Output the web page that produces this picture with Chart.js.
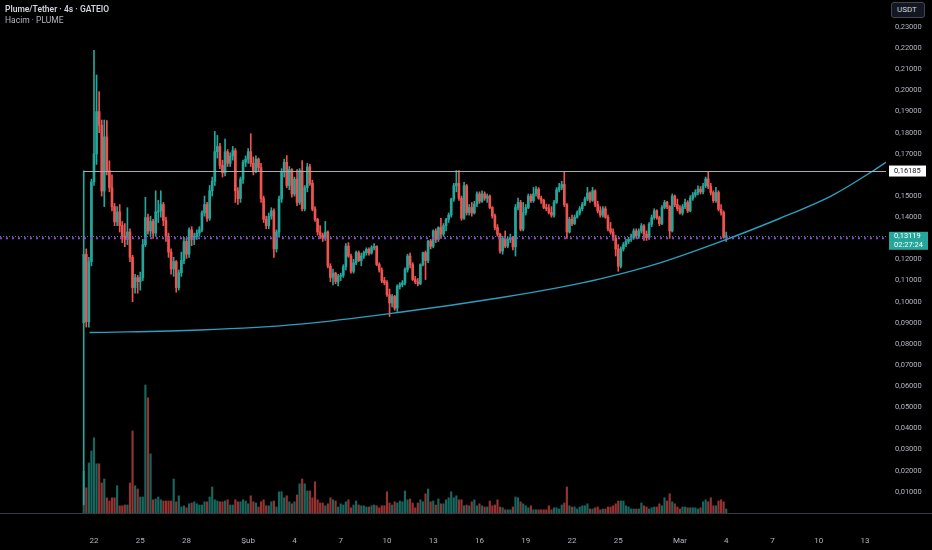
<!DOCTYPE html>
<html>
<head>
<meta charset="utf-8">
<script src="https://cdn.jsdelivr.net/npm/chart.js@4.4.1/dist/chart.umd.min.js"></script>
<style>
  html, body { margin: 0; padding: 0; background: #000; overflow: hidden; }
  #wrap { position: relative; width: 932px; height: 550px; }
  #title { position: absolute; left: 5px; top: 4px; font: 600 8.5px Roboto, "Noto Sans", sans-serif; color: #d1d4dc; white-space: nowrap; }
  #sub { position: absolute; left: 5px; top: 15px; font: 8.5px Roboto, "Noto Sans", sans-serif; color: #b2b5be; white-space: nowrap; }
  #unit { position: absolute; left: 891px; top: 2px; width: 34px; height: 16px; box-sizing: border-box; border: 1px solid #434651; border-radius: 3px; background: #131722; color: #d1d4dc; font: 8px Roboto, "Noto Sans", sans-serif; line-height: 14px; padding-left: 5px; }
</style>
</head>
<body>
<div id="wrap">
  <canvas id="chart" width="932" height="550"></canvas>
  <div id="title">Plume/Tether · 4s · GATEIO</div>
  <div id="sub">Hacim · PLUME</div>
  <div id="unit">USDT</div>
</div>
<script>
// 4h candles, first one opens Jan 21 08:00 (hours counted from Jan 22 00:00)
const firstCandleHour = -16;
const candleHours = 4;

const openPx = [
  0.0900,0.1224,0.0905,0.1190,0.1567,0.1700,0.1900,0.1835,0.1524,0.1780,
  0.1620,0.1540,0.1450,0.1378,0.1425,0.1360,0.1310,0.1295,0.1330,0.1210,
  0.1067,0.1114,0.1095,0.1114,0.1270,0.1398,0.1335,0.1380,0.1325,0.1425,
  0.1430,0.1460,0.1385,0.1310,0.1235,0.1155,0.1190,0.1067,0.1137,0.1195,
  0.1285,0.1225,0.1340,0.1295,0.1310,0.1325,0.1340,0.1420,0.1460,0.1395,
  0.1525,0.1570,0.1710,0.1735,0.1645,0.1610,0.1710,0.1655,0.1690,0.1715,
  0.1525,0.1488,0.1580,0.1660,0.1675,0.1710,0.1655,0.1620,0.1675,0.1635,
  0.1488,0.1390,0.1360,0.1405,0.1430,0.1250,0.1330,0.1486,0.1614,0.1660,
  0.1550,0.1625,0.1510,0.1580,0.1470,0.1620,0.1440,0.1540,0.1638,0.1560,
  0.1438,0.1390,0.1330,0.1315,0.1300,0.1330,0.1168,0.1115,0.1135,0.1095,
  0.1120,0.1125,0.1165,0.1263,0.1216,0.1144,0.1184,0.1232,0.1195,0.1216,
  0.1232,0.1248,0.1230,0.1256,0.1262,0.1176,0.1150,0.1100,0.1090,0.1033,
  0.0994,0.1025,0.0970,0.1073,0.1081,0.1089,0.1152,0.1216,0.1176,0.1105,
  0.1095,0.1085,0.1176,0.1232,0.1195,0.1287,0.1262,0.1335,0.1295,0.1351,
  0.1320,0.1360,0.1390,0.1410,0.1486,0.1549,0.1560,0.1490,0.1395,0.1549,
  0.1422,0.1446,0.1420,0.1462,0.1510,0.1475,0.1510,0.1490,0.1500,0.1446,
  0.1406,0.1351,0.1319,0.1240,0.1300,0.1263,0.1295,0.1303,0.1260,0.1446,
  0.1470,0.1343,0.1422,0.1446,0.1500,0.1478,0.1510,0.1533,0.1490,0.1480,
  0.1446,0.1440,0.1422,0.1410,0.1470,0.1530,0.1541,0.1555,0.1460,0.1330,
  0.1390,0.1370,0.1400,0.1420,0.1440,0.1460,0.1486,0.1515,0.1480,0.1525,
  0.1460,0.1430,0.1410,0.1440,0.1400,0.1345,0.1330,0.1300,0.1250,0.1168,
  0.1250,0.1270,0.1285,0.1295,0.1303,0.1335,0.1311,0.1335,0.1359,0.1320,
  0.1303,0.1367,0.1398,0.1430,0.1398,0.1370,0.1446,0.1470,0.1450,0.1335,
  0.1500,0.1460,0.1440,0.1420,0.1450,0.1470,0.1430,0.1490,0.1505,0.1517,
  0.1533,0.1520,0.1549,0.1581,0.1545,0.1517,0.1478,0.1517,0.1438,0.1422,
  0.1305
];
const highPx = [
  0.1620,0.1250,0.1210,0.1580,0.2190,0.2073,0.1995,0.1860,0.1860,0.1857,
  0.1667,0.1600,0.1465,0.1450,0.1460,0.1380,0.1370,0.1445,0.1345,0.1220,
  0.1130,0.1125,0.1140,0.1295,0.1494,0.1415,0.1405,0.1390,0.1525,0.1480,
  0.1525,0.1470,0.1400,0.1325,0.1250,0.1210,0.1195,0.1150,0.1235,0.1305,
  0.1300,0.1350,0.1355,0.1325,0.1340,0.1355,0.1430,0.1500,0.1470,0.1550,
  0.1590,0.1806,0.1787,0.1750,0.1670,0.1770,0.1720,0.1705,0.1735,0.1725,
  0.1540,0.1590,0.1670,0.1690,0.1725,0.1795,0.1685,0.1690,0.1680,0.1655,
  0.1500,0.1405,0.1420,0.1445,0.1440,0.1340,0.1500,0.1630,0.1675,0.1692,
  0.1640,0.1630,0.1590,0.1625,0.1630,0.1668,0.1550,0.1655,0.1650,0.1575,
  0.1450,0.1395,0.1360,0.1325,0.1380,0.1335,0.1180,0.1155,0.1140,0.1130,
  0.1135,0.1175,0.1275,0.1280,0.1225,0.1200,0.1240,0.1240,0.1230,0.1240,
  0.1255,0.1255,0.1265,0.1275,0.1265,0.1185,0.1160,0.1115,0.1100,0.1060,
  0.1035,0.1030,0.1080,0.1090,0.1100,0.1160,0.1225,0.1230,0.1185,0.1120,
  0.1110,0.1180,0.1235,0.1240,0.1290,0.1295,0.1340,0.1345,0.1355,0.1395,
  0.1370,0.1395,0.1420,0.1490,0.1560,0.1621,0.1621,0.1500,0.1565,0.1555,
  0.1460,0.1470,0.1475,0.1520,0.1520,0.1525,0.1520,0.1510,0.1505,0.1450,
  0.1415,0.1365,0.1325,0.1310,0.1335,0.1305,0.1320,0.1310,0.1460,0.1490,
  0.1480,0.1470,0.1460,0.1510,0.1510,0.1541,0.1545,0.1540,0.1500,0.1485,
  0.1462,0.1460,0.1450,0.1480,0.1540,0.1560,0.1570,0.1613,0.1465,0.1400,
  0.1410,0.1410,0.1430,0.1450,0.1470,0.1495,0.1541,0.1520,0.1541,0.1530,
  0.1475,0.1450,0.1450,0.1450,0.1410,0.1375,0.1345,0.1315,0.1271,0.1260,
  0.1280,0.1295,0.1305,0.1320,0.1345,0.1345,0.1345,0.1370,0.1365,0.1335,
  0.1375,0.1410,0.1440,0.1435,0.1405,0.1455,0.1480,0.1475,0.1455,0.1510,
  0.1505,0.1486,0.1455,0.1460,0.1486,0.1478,0.1502,0.1517,0.1530,0.1549,
  0.1545,0.1560,0.1590,0.1616,0.1560,0.1525,0.1541,0.1525,0.1460,0.1430,
  0.1330
];
const lowPx = [
  0.0040,0.0880,0.0880,0.1170,0.1550,0.1650,0.1800,0.1500,0.1450,0.1600,
  0.1520,0.1430,0.1360,0.1360,0.1330,0.1280,0.1260,0.1270,0.1190,0.1000,
  0.1040,0.1040,0.1055,0.1100,0.1260,0.1320,0.1310,0.1300,0.1310,0.1375,
  0.1400,0.1360,0.1285,0.1210,0.1130,0.1120,0.1045,0.1055,0.1120,0.1180,
  0.1205,0.1210,0.1265,0.1270,0.1295,0.1310,0.1330,0.1405,0.1380,0.1385,
  0.1500,0.1550,0.1680,0.1630,0.1590,0.1595,0.1640,0.1640,0.1670,0.1470,
  0.1460,0.1470,0.1560,0.1640,0.1655,0.1640,0.1600,0.1610,0.1620,0.1470,
  0.1375,0.1345,0.1345,0.1390,0.1210,0.1235,0.1305,0.1470,0.1590,0.1540,
  0.1530,0.1495,0.1500,0.1455,0.1460,0.1430,0.1430,0.1520,0.1550,0.1430,
  0.1380,0.1315,0.1300,0.1285,0.1290,0.1160,0.1095,0.1080,0.1085,0.1075,
  0.1100,0.1115,0.1150,0.1210,0.1135,0.1135,0.1175,0.1190,0.1170,0.1205,
  0.1220,0.1220,0.1225,0.1245,0.1170,0.1140,0.1090,0.1080,0.1025,0.0930,
  0.0975,0.0960,0.0954,0.1060,0.1070,0.1080,0.1140,0.1160,0.1100,0.1085,
  0.1075,0.1080,0.1170,0.1105,0.1185,0.1250,0.1255,0.1280,0.1285,0.1300,
  0.1310,0.1335,0.1375,0.1400,0.1475,0.1520,0.1480,0.1385,0.1390,0.1410,
  0.1410,0.1405,0.1415,0.1450,0.1465,0.1470,0.1480,0.1470,0.1440,0.1395,
  0.1340,0.1310,0.1230,0.1225,0.1255,0.1255,0.1280,0.1245,0.1216,0.1435,
  0.1335,0.1335,0.1410,0.1440,0.1470,0.1470,0.1500,0.1485,0.1465,0.1440,
  0.1430,0.1415,0.1400,0.1400,0.1465,0.1520,0.1530,0.1450,0.1300,0.1325,
  0.1360,0.1365,0.1395,0.1410,0.1430,0.1455,0.1478,0.1470,0.1475,0.1450,
  0.1420,0.1400,0.1400,0.1395,0.1335,0.1320,0.1290,0.1216,0.1144,0.1160,
  0.1240,0.1260,0.1275,0.1285,0.1295,0.1300,0.1300,0.1325,0.1290,0.1290,
  0.1295,0.1355,0.1390,0.1390,0.1360,0.1365,0.1440,0.1440,0.1300,0.1330,
  0.1450,0.1430,0.1414,0.1410,0.1440,0.1422,0.1425,0.1480,0.1495,0.1505,
  0.1510,0.1510,0.1540,0.1535,0.1505,0.1470,0.1470,0.1430,0.1410,0.1300,
  0.1285
];
const closePx = [
  0.1224,0.0905,0.1190,0.1567,0.1700,0.1900,0.1835,0.1524,0.1780,0.1620,
  0.1540,0.1450,0.1378,0.1425,0.1360,0.1310,0.1295,0.1330,0.1210,0.1067,
  0.1114,0.1095,0.1114,0.1270,0.1398,0.1335,0.1380,0.1325,0.1425,0.1430,
  0.1460,0.1385,0.1310,0.1235,0.1155,0.1190,0.1067,0.1137,0.1195,0.1285,
  0.1225,0.1340,0.1295,0.1310,0.1325,0.1340,0.1420,0.1460,0.1395,0.1525,
  0.1570,0.1710,0.1735,0.1645,0.1610,0.1710,0.1655,0.1690,0.1715,0.1525,
  0.1488,0.1580,0.1660,0.1675,0.1710,0.1655,0.1620,0.1675,0.1635,0.1488,
  0.1390,0.1360,0.1405,0.1430,0.1250,0.1330,0.1486,0.1614,0.1660,0.1550,
  0.1625,0.1510,0.1580,0.1470,0.1620,0.1440,0.1540,0.1638,0.1560,0.1438,
  0.1390,0.1330,0.1315,0.1300,0.1330,0.1168,0.1115,0.1135,0.1095,0.1120,
  0.1125,0.1165,0.1263,0.1216,0.1144,0.1184,0.1232,0.1195,0.1216,0.1232,
  0.1248,0.1230,0.1256,0.1262,0.1176,0.1150,0.1100,0.1090,0.1033,0.0994,
  0.1025,0.0970,0.1073,0.1081,0.1089,0.1152,0.1216,0.1176,0.1105,0.1095,
  0.1085,0.1176,0.1232,0.1195,0.1287,0.1262,0.1335,0.1295,0.1351,0.1320,
  0.1360,0.1390,0.1410,0.1486,0.1549,0.1560,0.1490,0.1395,0.1549,0.1422,
  0.1446,0.1420,0.1462,0.1510,0.1475,0.1510,0.1490,0.1500,0.1446,0.1406,
  0.1351,0.1319,0.1240,0.1300,0.1263,0.1295,0.1303,0.1260,0.1446,0.1470,
  0.1343,0.1422,0.1446,0.1500,0.1478,0.1510,0.1533,0.1490,0.1480,0.1446,
  0.1440,0.1422,0.1410,0.1470,0.1530,0.1541,0.1555,0.1460,0.1330,0.1390,
  0.1370,0.1400,0.1420,0.1440,0.1460,0.1486,0.1515,0.1480,0.1525,0.1460,
  0.1430,0.1410,0.1440,0.1400,0.1345,0.1330,0.1300,0.1250,0.1168,0.1250,
  0.1270,0.1285,0.1295,0.1303,0.1335,0.1311,0.1335,0.1359,0.1320,0.1303,
  0.1367,0.1398,0.1430,0.1398,0.1370,0.1446,0.1470,0.1450,0.1335,0.1500,
  0.1460,0.1440,0.1420,0.1450,0.1470,0.1430,0.1490,0.1505,0.1517,0.1533,
  0.1520,0.1549,0.1581,0.1545,0.1517,0.1478,0.1517,0.1438,0.1422,0.1305,
  0.13119
];
// volume, millions of PLUME
const volumeM = [
  10.4,6.3,12.5,15.5,18.8,12.3,12.3,7.5,8.5,3.8,
  3.0,3.8,3.8,6.8,1.8,1.8,2.0,2.0,7.5,20.5,
  6.8,6.0,4.0,4.0,32.0,28.8,14.8,3.3,3.5,4.0,
  3.3,3.0,3.0,3.0,3.0,8.5,2.8,4.3,1.5,1.8,
  1.3,2.3,2.5,2.8,2.3,2.0,2.0,2.8,2.8,4.0,
  6.5,3.3,3.0,2.8,2.8,3.0,3.3,2.0,2.0,3.3,
  2.8,2.8,3.3,3.0,2.3,4.3,2.8,2.5,1.5,2.8,
  3.3,1.8,1.8,2.8,3.0,1.5,5.3,5.3,3.8,4.3,
  2.8,2.3,2.8,4.5,7.3,8.5,7.3,5.5,5.5,3.8,
  7.8,3.3,2.5,2.5,1.8,2.3,3.8,3.3,3.0,1.5,
  2.3,2.0,2.8,3.3,1.3,2.0,3.0,2.0,1.8,1.8,
  1.5,1.5,1.8,2.0,1.8,1.3,1.8,1.8,5.3,2.5,
  2.0,2.8,2.5,3.0,2.8,5.5,3.3,3.5,2.5,1.3,
  2.5,3.3,2.8,4.8,6.0,2.8,3.0,2.0,3.5,2.3,
  2.3,3.3,3.8,5.3,3.8,4.3,3.3,3.3,1.8,2.0,
  1.8,2.8,3.3,1.8,2.3,1.8,1.5,1.5,3.0,1.8,
  2.0,3.3,1.5,1.3,0.8,0.8,0.8,1.5,4.0,3.8,
  2.8,2.3,1.8,1.3,1.8,0.8,0.8,0.8,0.8,0.8,
  0.8,1.8,0.8,1.3,1.3,1.0,2.0,2.5,6.5,1.8,
  1.5,1.5,1.0,1.5,1.8,1.8,2.3,1.0,1.0,1.3,
  1.5,0.8,1.0,1.0,1.5,1.5,1.8,2.3,3.0,3.0,
  3.0,1.8,1.5,1.0,1.0,1.0,1.0,2.5,1.8,1.5,
  1.0,1.3,1.5,1.5,2.3,1.8,3.8,3.0,4.8,2.8,
  2.3,1.5,1.0,1.5,1.5,1.3,1.3,1.3,1.3,1.0,
  1.3,2.8,3.3,2.8,3.8,1.8,1.8,3.0,3.3,2.8,
  1.0
];

// time axis: days after Jan 22 and their labels
const timeTickDays = [0, 3, 6, 10, 13, 16, 19, 22, 25, 28, 31, 34, 38, 41, 44, 47, 50];
const timeTickLabels = ['22', '25', '28', 'Şub', '4', '7', '10', '13', '16', '19', '22', '25', 'Mar', '4', '7', '10', '13'];
const priceTicks = [0.01, 0.02, 0.03, 0.04, 0.05, 0.06, 0.07, 0.08, 0.09, 0.10, 0.11, 0.12,
                    0.14, 0.15, 0.17, 0.18, 0.19, 0.20, 0.21, 0.22, 0.23];

// drawings
const resistanceLevel = 0.16185;
const markerLevel = 0.1300;
const curveHours = [-7, 165, 321, 476, 632, 725, 788, 881, 974, 1068, 1150, 1212, 1240];
const curvePrices = [0.0854, 0.0866, 0.0894, 0.0950, 0.1019, 0.1068, 0.1108, 0.1184, 0.1283, 0.1395, 0.1505, 0.16185, 0.1675];
const countdown = '02:27:24';

const upColor = '#26a69a';
const downColor = '#ef5350';
const fontFamily = 'Roboto, "Noto Sans", sans-serif';

const candleX = openPx.map((_, i) => firstCandleHour + i * candleHours);
const isUp = closePx.map((c, i) => c >= openPx[i]);
const lastPrice = closePx[closePx.length - 1];

function fmt(v) {
  return v.toFixed(5).replace('.', ',');
}

const overlay = {
  id: 'overlay',
  afterDatasetsDraw(chart) {
    const { ctx, chartArea: a, scales } = chart;
    const y = scales.y, x = scales.x;
    ctx.save();
    ctx.beginPath();
    ctx.rect(a.left, a.top, a.right - a.left, a.bottom - a.top);
    ctx.clip();

    // purple dotted level
    let py = y.getPixelForValue(markerLevel);
    ctx.strokeStyle = '#9c3fd6';
    ctx.lineWidth = 2;
    ctx.setLineDash([2, 4]);
    ctx.beginPath();
    ctx.moveTo(a.left, py);
    ctx.lineTo(a.right, py);
    ctx.stroke();

    // last price line
    py = Math.round(y.getPixelForValue(lastPrice)) + 0.5;
    ctx.strokeStyle = 'rgba(38,166,154,0.9)';
    ctx.lineWidth = 1;
    ctx.setLineDash([1, 2]);
    ctx.beginPath();
    ctx.moveTo(a.left, py);
    ctx.lineTo(a.right, py);
    ctx.stroke();

    // horizontal ray from the first candle
    py = Math.round(y.getPixelForValue(resistanceLevel)) + 0.5;
    ctx.strokeStyle = '#a9acb5';
    ctx.setLineDash([]);
    ctx.beginPath();
    ctx.moveTo(x.getPixelForValue(candleX[0]), py);
    ctx.lineTo(a.right, py);
    ctx.stroke();
    ctx.restore();
  },
  afterDraw(chart) {
    const { ctx, chartArea: a, scales } = chart;
    const y = scales.y;
    ctx.save();
    // time axis border
    ctx.strokeStyle = '#363a45';
    ctx.lineWidth = 1;
    ctx.beginPath();
    ctx.moveTo(0, a.bottom + 0.5);
    ctx.lineTo(chart.width, a.bottom + 0.5);
    ctx.stroke();

    ctx.font = '7.5px ' + fontFamily;
    ctx.textBaseline = 'middle';
    ctx.textAlign = 'left';

    // resistance label
    let py = y.getPixelForValue(resistanceLevel);
    ctx.fillStyle = '#ffffff';
    ctx.fillRect(a.right + 3, py - 5.5, 37, 11);
    ctx.fillStyle = '#131722';
    ctx.fillText(fmt(resistanceLevel), a.right + 8, py + 0.5);

    // last price label with countdown
    py = y.getPixelForValue(lastPrice);
    ctx.fillStyle = upColor;
    ctx.fillRect(a.right + 3, py - 4, 39, 18);
    ctx.fillStyle = '#ffffff';
    ctx.fillText(fmt(lastPrice), a.right + 8, py + 0.5);
    ctx.fillText(countdown, a.right + 8, py + 9);
    ctx.restore();
  }
};

Chart.defaults.font.family = fontFamily;

new Chart(document.getElementById('chart'), {
  type: 'bar',
  data: {
    datasets: [
      {
        type: 'line',
        label: 'Eğri',
        data: curveHours.map((h, i) => ({ x: h, y: curvePrices[i] })),
        borderColor: '#2b9fbf',
        borderWidth: 1.4,
        pointRadius: 0,
        cubicInterpolationMode: 'monotone',
        yAxisID: 'y',
        order: 1
      },
      {
        label: 'Gövde',
        data: candleX.map((h, i) => ({ x: h, y: [openPx[i], closePx[i]] })),
        backgroundColor: isUp.map(u => u ? upColor : downColor),
        barThickness: 2,
        minBarLength: 1,
        grouped: false,
        yAxisID: 'y',
        order: 2
      },
      {
        label: 'Fitil',
        data: candleX.map((h, i) => ({ x: h, y: [lowPx[i], highPx[i]] })),
        backgroundColor: isUp.map(u => u ? upColor : downColor),
        barThickness: 1,
        grouped: false,
        yAxisID: 'y',
        order: 3
      },
      {
        label: 'Hacim',
        data: candleX.map((h, i) => ({ x: h, y: volumeM[i] })),
        backgroundColor: isUp.map(u => u ? 'rgba(38,166,154,0.62)' : 'rgba(239,83,80,0.62)'),
        barThickness: 1.5,
        grouped: false,
        yAxisID: 'yv',
        order: 4
      }
    ]
  },
  options: {
    responsive: false,
    animation: false,
    layout: { padding: 0 },
    plugins: {
      legend: { display: false },
      tooltip: { enabled: false }
    },
    scales: {
      x: {
        type: 'linear',
        min: -146.3,
        max: 1232.7,
        offset: false,
        grid: { display: false, drawTicks: false },
        border: { display: false },
        ticks: {
          autoSkip: false,
          maxRotation: 0,
          padding: 23,
          color: '#b2b5be',
          font: { size: 8 },
          callback: (v, i) => timeTickLabels[i]
        },
        afterBuildTicks: s => { s.ticks = timeTickDays.map(d => ({ value: d * 24 })); },
        afterFit: s => { s.height = 37; s.paddingLeft = 0; s.paddingRight = 0; }
      },
      y: {
        type: 'linear',
        position: 'right',
        min: 0,
        max: 0.2428,
        grid: { display: false, drawTicks: false },
        border: { display: false },
        ticks: {
          padding: 9,
          color: '#b2b5be',
          font: { size: 7.5 },
          callback: v => fmt(v)
        },
        afterBuildTicks: s => { s.ticks = priceTicks.map(v => ({ value: v })); },
        afterFit: s => { s.width = 46; s.paddingTop = 0; s.paddingBottom = 0; }
      },
      yv: {
        type: 'linear',
        display: false,
        min: 0,
        max: 128.25
      }
    }
  },
  plugins: [overlay]
});
</script>
</body>
</html>
